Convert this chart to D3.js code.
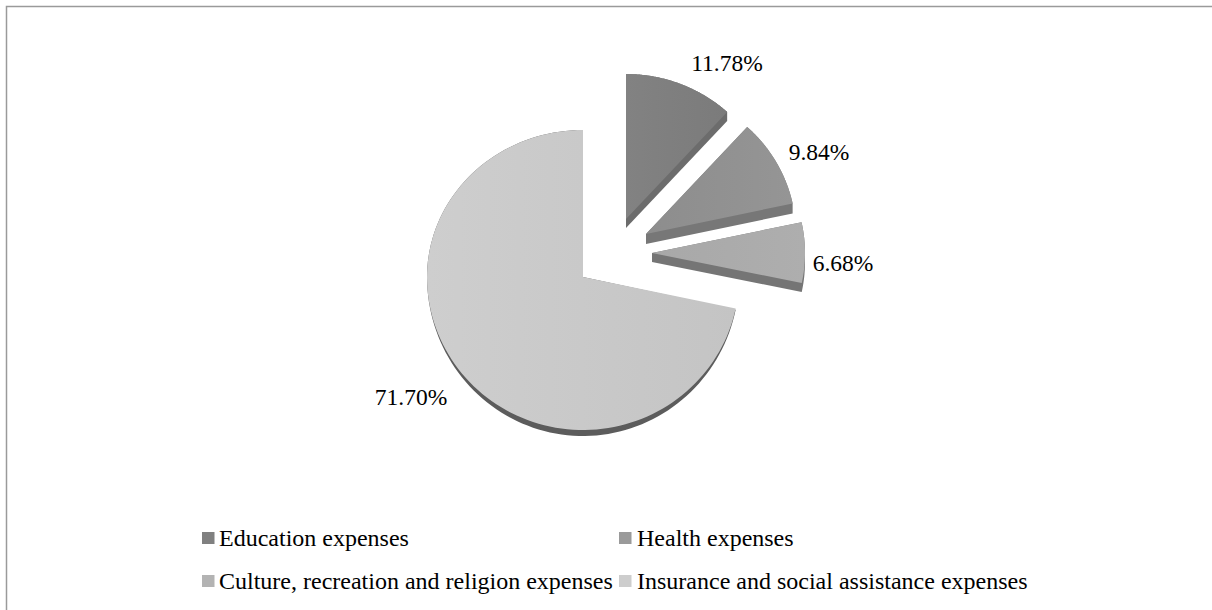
<!DOCTYPE html>
<html>
<head>
<meta charset="utf-8">
<style>
html,body{margin:0;padding:0;background:#fff;}
svg{display:block;}
text{font-family:"Liberation Serif","Times New Roman",serif;fill:#000;}
</style>
<script src="https://cdn.jsdelivr.net/npm/d3@7"></script>
</head>
<body>
<svg id="chart" width="1212" height="610"></svg>
<script>
const categories = [
  "Education expenses",
  "Health expenses",
  "Culture, recreation and religion expenses",
  "Insurance and social assistance expenses"
];
const shares = [11.78, 9.84, 6.68, 71.70];
const valueLabels = ["11.78%", "9.84%", "6.68%", "71.70%"];

// Per-slice drawing geometry: apex after explosion, tilted radii, wall depth, tones.
const sliceLayout = [
  {x: 626, y: 219, rx: 150, ryUp: 145, ryDown: 145, depth: 9, wallOut: 0, from: "#828282", to: "#7b7b7b", wall: "#6c6c6c", lx: 727, ly: 71},
  {x: 646, y: 234, rx: 150, ryUp: 145, ryDown: 145, depth: 10, wallOut: 0, from: "#8d8d8d", to: "#959595", wall: "#777777", lx: 819, ly: 160},
  {x: 652, y: 253, rx: 153, ryUp: 146, ryDown: 146, depth: 9, wallOut: 0, from: "#a8a8a8", to: "#aeaeae", wall: "#757575", lx: 843, ly: 271},
  {x: 583, y: 277, rx: 156, ryUp: 147, ryDown: 153, depth: 0, wallOut: 6, from: "#cecece", to: "#c4c4c4", wall: "#5c5c5c", lx: 411, ly: 405}
];
const legendTones = ["#808080", "#9a9a9a", "#b3b3b3", "#cdcdcd"];
const legendRows = [
  {sx: 202, tx: 219, y: 546},
  {sx: 619, tx: 637, y: 546},
  {sx: 202, tx: 219, y: 589},
  {sx: 619, tx: 637, y: 589}
];

const svg = d3.select("#chart");
const defs = svg.append("defs");

// Chart frame: only the top and left rules are drawn, running to the page edge
svg.append("path")
  .attr("d", "M6.5,610V6.5H1212")
  .attr("fill", "none").attr("stroke", "#9a9a9a").attr("stroke-width", 1.5);

const pie = d3.pie().sort(null).value(d => d)(shares);

// Outline of a tilted slice: the disc is sampled along its rim so the upper
// and lower halves can carry different vertical radii.
function sliceOutline(p, s, extra, dy) {
  const steps = d3.range(0, 1.0001, 1 / 120).map(d3.interpolate(p.startAngle, p.endAngle));
  const rim = steps.map(a => {
    const c = Math.cos(a);
    const ry = c >= 0 ? s.ryUp : s.ryDown + extra;
    return [s.x + s.rx * Math.sin(a), s.y + dy - ry * c];
  });
  return [[s.x, s.y + dy], ...rim];
}
const toPath = pts => d3.line()(pts) + "Z";

const slices = svg.selectAll("g.slice").data(pie).join("g").attr("class", "slice");

slices.each(function (p, i) {
  const s = sliceLayout[i];
  const g = d3.select(this);
  const id = "tone" + i;
  const grad = defs.append("linearGradient").attr("id", id);
  grad.append("stop").attr("offset", "0%").attr("stop-color", s.from);
  grad.append("stop").attr("offset", "100%").attr("stop-color", s.to);

  // Side wall: the exploded slices are convex, so the hull of the top and bottom
  // outlines gives the extrusion; the large slice only shows a rim below its arc.
  if (s.depth) {
    const hull = d3.polygonHull([...sliceOutline(p, s, 0, 0), ...sliceOutline(p, s, 0, s.depth)]);
    g.append("path").attr("d", toPath(hull)).attr("fill", s.wall);
  }
  if (s.wallOut) {
    g.append("path").attr("d", toPath(sliceOutline(p, s, s.wallOut, 0))).attr("fill", s.wall);
  }
  g.append("path").attr("d", toPath(sliceOutline(p, s, 0, 0))).attr("fill", `url(#${id})`);
});

// Value labels
svg.selectAll("text.value").data(valueLabels).join("text")
  .attr("class", "value")
  .attr("x", (d, i) => sliceLayout[i].lx)
  .attr("y", (d, i) => sliceLayout[i].ly)
  .attr("text-anchor", "middle")
  .attr("font-size", 23.5)
  .text(d => d);

// Legend
const legend = svg.selectAll("g.key").data(categories).join("g").attr("class", "key");
legend.append("rect")
  .attr("x", (d, i) => legendRows[i].sx)
  .attr("y", (d, i) => legendRows[i].y - 14)
  .attr("width", 12.5).attr("height", 12)
  .attr("fill", (d, i) => legendTones[i]);
legend.append("text")
  .attr("x", (d, i) => legendRows[i].tx)
  .attr("y", (d, i) => legendRows[i].y)
  .attr("font-size", 24)
  .text(d => d);
</script>
</body>
</html>
